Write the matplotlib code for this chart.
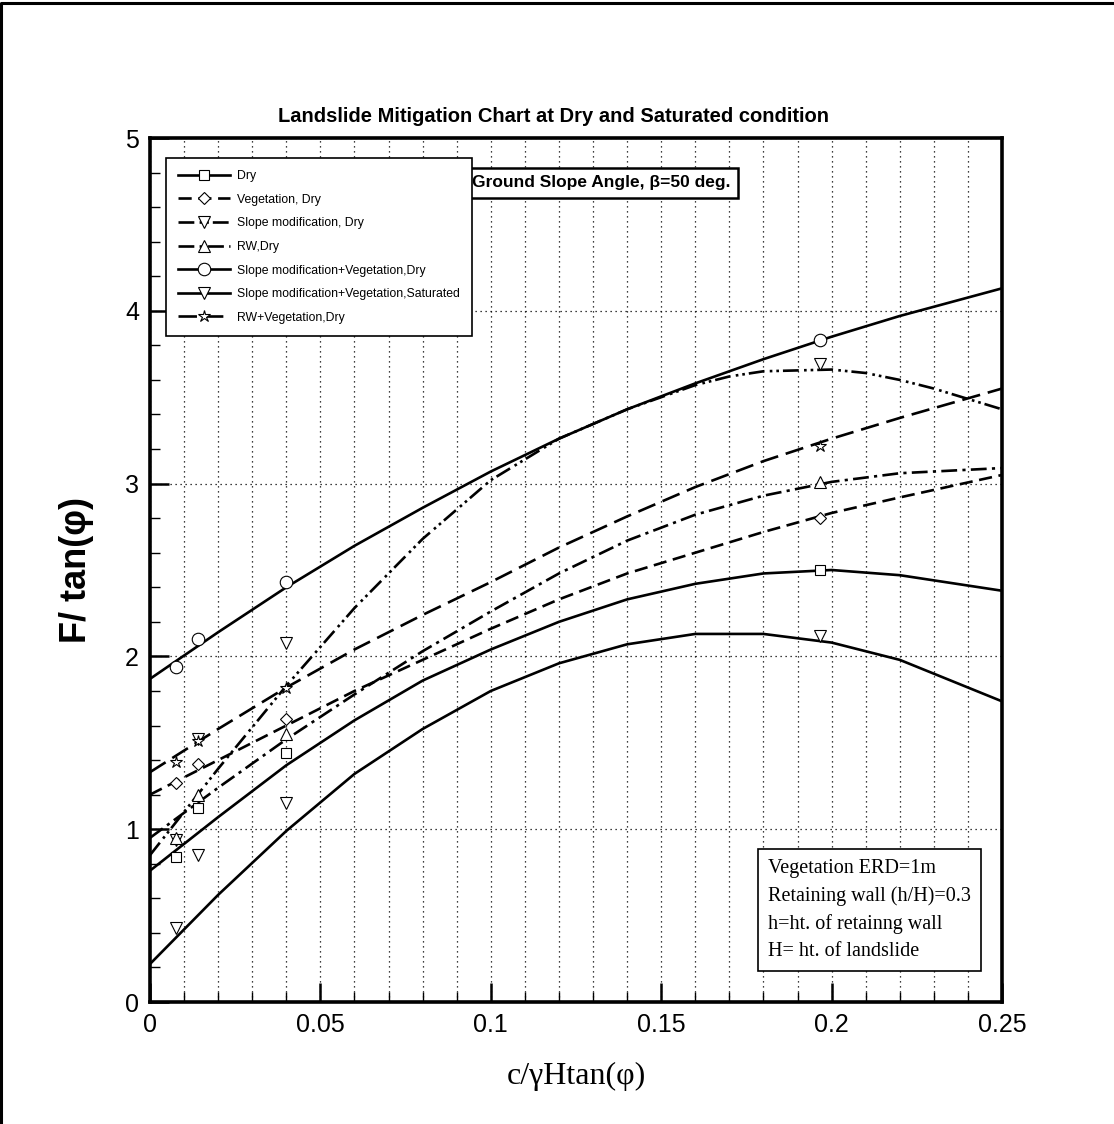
import numpy as np
import matplotlib.pyplot as plt
from matplotlib.lines import Line2D
from matplotlib.ticker import MultipleLocator

# curve values
x_curve = [0.0, 0.02, 0.04, 0.06, 0.08, 0.10, 0.12, 0.14, 0.16, 0.18, 0.20, 0.22, 0.25]
dry = [0.76, 1.07, 1.37, 1.63, 1.86, 2.04, 2.20, 2.33, 2.42, 2.48, 2.50, 2.47, 2.38]
veg_dry = [1.20, 1.40, 1.60, 1.80, 1.98, 2.16, 2.33, 2.48, 2.60, 2.72, 2.83, 2.92, 3.05]
rw_dry = [0.95, 1.24, 1.52, 1.78, 2.03, 2.26, 2.48, 2.67, 2.82, 2.93, 3.01, 3.06, 3.09]
smveg_dry = [1.87, 2.14, 2.40, 2.64, 2.86, 3.07, 3.26, 3.43, 3.58, 3.72, 3.85, 3.97, 4.13]
smveg_sat = [0.22, 0.62, 0.99, 1.32, 1.58, 1.80, 1.96, 2.07, 2.13, 2.13, 2.08, 1.98, 1.74]
rwveg_dry = [1.33, 1.58, 1.82, 2.04, 2.24, 2.43, 2.63, 2.81, 2.98, 3.13, 3.26, 3.38, 3.55]

# slope modification, dry has its own sample points (joins the top curve)
x_sm = [0.0, 0.02, 0.04, 0.06, 0.08, 0.10, 0.11, 0.12, 0.14, 0.16, 0.17, 0.18, 0.20, 0.21, 0.22, 0.23, 0.24, 0.25]
sm_dry = [0.85, 1.35, 1.83, 2.28, 2.68, 3.02, 3.14, 3.26, 3.43, 3.57, 3.62, 3.65, 3.66, 3.64, 3.60, 3.55, 3.49, 3.43]

# computed points (markers)
x_pts = [0.0077, 0.0141, 0.0399, 0.1966]
dry_pts = [0.84, 1.12, 1.44, 2.50]
veg_dry_pts = [1.27, 1.38, 1.64, 2.80]
sm_dry_pts = [0.94, 1.52, 2.08, 3.69]
rw_dry_pts = [0.95, 1.20, 1.55, 3.01]
smveg_dry_pts = [1.94, 2.10, 2.43, 3.83]
smveg_sat_pts = [0.43, 0.85, 1.15, 2.12]
rwveg_dry_pts = [1.39, 1.51, 1.82, 3.22]

x_ticks = [0, 0.05, 0.1, 0.15, 0.2, 0.25]
x_ticklabels = ['0', '0.05', '0.1', '0.15', '0.2', '0.25']
y_ticks = [0, 1, 2, 3, 4, 5]
y_ticklabels = ['0', '1', '2', '3', '4', '5']

narrow = ['Liberation Sans', 'DejaVu Sans']
serif = ['Liberation Serif', 'DejaVu Serif']

fig = plt.figure(figsize=(11.14, 11.24), dpi=100)
ax = fig.add_axes([150/1114, 122/1124, 852/1114, 864/1124])

lw = 1.9
dashed = (0, (5, 2.5))
dashdot = (0, (6, 2, 1.2, 2))
dashdotdot = (0, (6, 2, 1, 1.5, 1, 1.5))
longdash = (0, (7, 3))

series = [
    ('Dry', x_curve, dry, dry_pts, '-', 's', 7),
    ('Vegetation, Dry', x_curve, veg_dry, veg_dry_pts, dashed, 'D', 6),
    ('Slope modification, Dry', x_sm, sm_dry, sm_dry_pts, dashdotdot, 'v', 8.5),
    ('RW,Dry', x_curve, rw_dry, rw_dry_pts, dashdot, '^', 8.5),
    ('Slope modification+Vegetation,Dry', x_curve, smveg_dry, smveg_dry_pts, '-', 'o', 9),
    ('Slope modification+Vegetation,Saturated', x_curve, smveg_sat, smveg_sat_pts, '-', 'v', 8.5),
    ('RW+Vegetation,Dry', x_curve, rwveg_dry, rwveg_dry_pts, longdash, '*', 9),
]

handles = []
for label, xs, ys, pts, ls, mk, ms in series:
    ax.plot(xs, ys, color='black', linestyle=ls, linewidth=lw)
    ax.plot(x_pts, pts, linestyle='none', marker=mk, markersize=ms,
            markerfacecolor='white', markeredgecolor='black', markeredgewidth=0.8)
    handles.append(Line2D([], [], color='black', linestyle=ls, linewidth=lw, marker=mk,
                          markersize=ms, markerfacecolor='white', markeredgecolor='black',
                          markeredgewidth=0.8, label=label))

ax.set_xlim(0, 0.25)
ax.set_ylim(0, 5)
ax.set_xticks(x_ticks)
ax.set_xticklabels(x_ticklabels)
ax.set_yticks(y_ticks)
ax.set_yticklabels(y_ticklabels)
ax.xaxis.set_minor_locator(MultipleLocator(0.01))
ax.yaxis.set_minor_locator(MultipleLocator(0.2))

ax.grid(which='both', axis='x', color='black', linestyle=(0, (1, 3)), linewidth=0.9)
ax.grid(which='major', axis='y', color='black', linestyle=(0, (1, 3)), linewidth=0.9)
ax.tick_params(which='major', direction='in', length=14, width=1.8, pad=8)
ax.tick_params(which='minor', direction='in', length=7, width=1.0)
for lab in ax.get_xticklabels() + ax.get_yticklabels():
    lab.set_family(narrow)
    lab.set_fontstretch('condensed')
    lab.set_fontsize(18)
for sp in ax.spines.values():
    sp.set_linewidth(2.6)

ax.set_xlabel('c/γHtan(φ)', family=serif, fontsize=23, labelpad=18)
ax.set_ylabel('F/ tan(φ)', family=narrow, fontsize=26, fontweight='bold', labelpad=22)

fig.text(554/1114, 1 - 117/1124, 'Landslide Mitigation Chart at Dry and Saturated condition',
         ha='center', va='center', family=narrow, fontstretch='condensed',
         fontweight='bold', fontsize=14.5)

leg = ax.legend(handles=handles, loc='upper left', bbox_to_anchor=(0.019, 0.977),
                prop={'family': narrow, 'size': 8.8, 'stretch': 'condensed'},
                handlelength=4.2, labelspacing=0.95, borderpad=1.0, handletextpad=0.6,
                fancybox=False, framealpha=1, edgecolor='black', borderaxespad=0)
leg.get_frame().set_linewidth(1.2)

ax.text((601 - 150) / 852, (1002 - 183) / 864, 'Ground Slope Angle, β=50 deg.',
        transform=ax.transAxes, ha='center', va='center', family=narrow,
        fontstretch='condensed', fontweight='bold', fontsize=12.5,
        bbox=dict(boxstyle='square,pad=0.45', facecolor='white', edgecolor='black', linewidth=1.8))

note = 'Vegetation ERD=1m\nRetaining wall (h/H)=0.3\nh=ht. of retainng wall\nH= ht. of landslide'
ax.text((768 - 150) / 852, (1002 - 910) / 864, note, transform=ax.transAxes,
        ha='left', va='center', family=serif, fontsize=14.5, linespacing=1.55,
        bbox=dict(boxstyle='square,pad=0.5', facecolor='white', edgecolor='black', linewidth=1.2))

# page frame (top and left edges)
fig.add_artist(Line2D([0.001, 0.001, 1.0], [0.0, 0.997, 0.997], transform=fig.transFigure,
                      color='black', linewidth=2.2))

fig.savefig('out.png', dpi=100)
